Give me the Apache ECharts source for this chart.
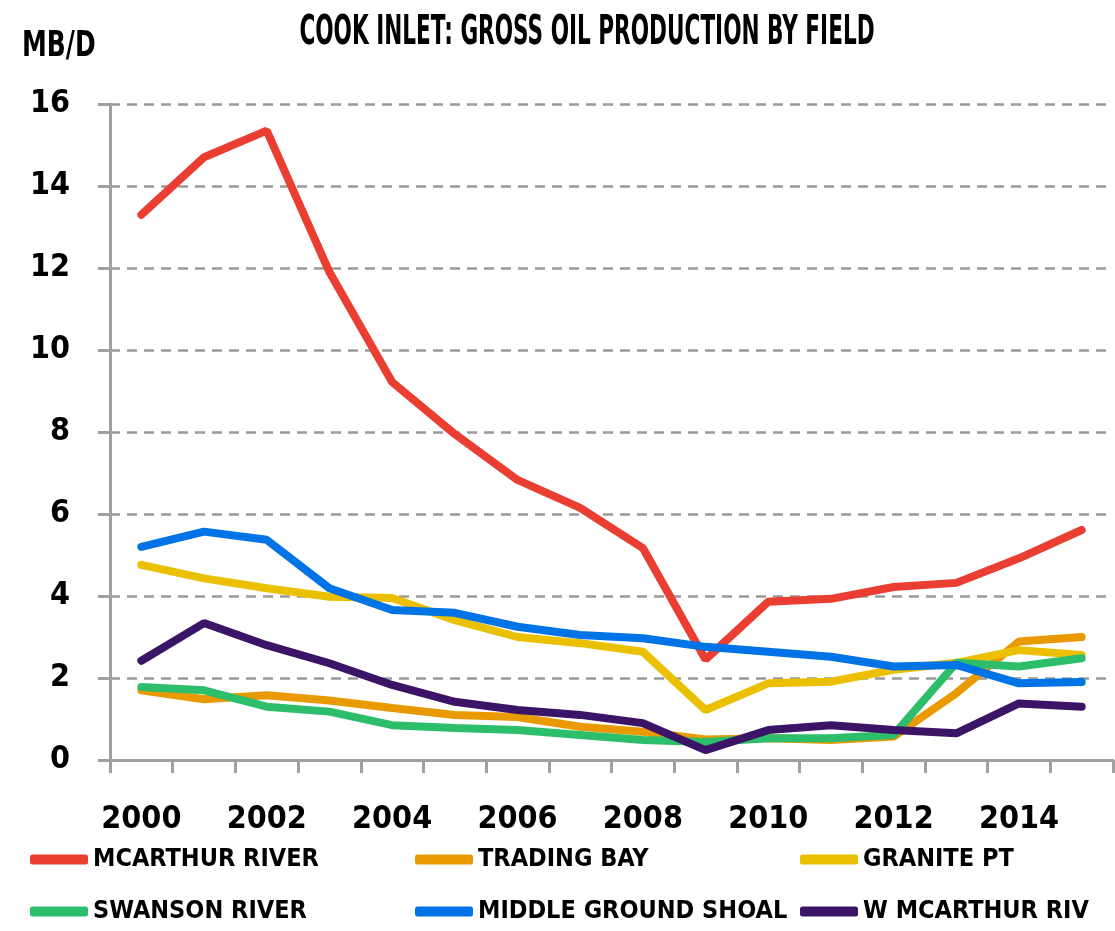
<!DOCTYPE html>
<html>
<head>
<meta charset="utf-8">
<script src="https://cdn.jsdelivr.net/npm/echarts@6.0.0/dist/echarts.min.js"></script>
<style>
  html, body { margin: 0; padding: 0; background: #fff; }
  #main { width: 1115px; height: 931px; }
</style>
</head>
<body>
<div id="main"></div>
<script>
// years on the x axis
const years = ['2000', '2001', '2002', '2003', '2004', '2005', '2006', '2007',
  '2008', '2009', '2010', '2011', '2012', '2013', '2014', '2015'];

// gross oil production, MB/D
const mcarthurRiver = [13.3, 14.7, 15.35, 11.9, 9.22, 7.95, 6.83, 6.15, 5.17, 2.45, 3.86, 3.93, 4.22, 4.32, 4.92, 5.61];
const tradingBay = [1.7, 1.48, 1.58, 1.45, 1.27, 1.1, 1.05, 0.81, 0.69, 0.5, 0.53, 0.49, 0.57, 1.63, 2.89, 3.0];
const granitePt = [4.76, 4.43, 4.19, 3.98, 3.95, 3.41, 3.0, 2.85, 2.64, 1.22, 1.87, 1.91, 2.2, 2.37, 2.68, 2.56];
const swansonRiver = [1.78, 1.7, 1.3, 1.18, 0.85, 0.78, 0.73, 0.61, 0.49, 0.44, 0.53, 0.53, 0.61, 2.37, 2.28, 2.48];
const middleGroundShoal = [5.2, 5.57, 5.37, 4.19, 3.66, 3.59, 3.25, 3.05, 2.97, 2.76, 2.64, 2.52, 2.28, 2.32, 1.87, 1.9];
const wMcarthurRiv = [2.42, 3.34, 2.8, 2.36, 1.83, 1.42, 1.22, 1.1, 0.9, 0.24, 0.73, 0.85, 0.73, 0.65, 1.38, 1.3];

const fieldNames = ['MCARTHUR RIVER', 'TRADING BAY', 'GRANITE PT', 'SWANSON RIVER', 'MIDDLE GROUND SHOAL', 'W MCARTHUR RIV'];
const fieldData = [mcarthurRiver, tradingBay, granitePt, swansonRiver, middleGroundShoal, wMcarthurRiv];
const fieldColors = ['#e93e31', '#e89a00', '#ebc000', '#2dbe6c', '#0073e6', '#3b1367'];

const FONT = '"Liberation Sans Narrow", "DejaVu Sans Condensed", sans-serif';

const chart = echarts.init(document.getElementById('main'));

// one legend per column, two rows each
function makeLegend(left, names) {
  return {
    orient: 'vertical',
    left: left,
    top: 847,
    height: 84,
    padding: 0,
    itemGap: 27,
    itemWidth: 58,
    itemHeight: 10,
    icon: 'roundRect',
    data: names,
    textStyle: {
      fontFamily: FONT,
      fontWeight: 'bold',
      fontSize: 25,
      color: '#000'
    }
  };
}

const option = {
  animation: false,
  backgroundColor: '#fff',
  graphic: [{
    type: 'text',
    x: 587,
    y: 14,
    scaleX: 0.6,
    style: {
      text: 'COOK INLET: GROSS OIL PRODUCTION BY FIELD',
      font: 'bold 40px ' + FONT,
      fill: '#000',
      textAlign: 'center',
      textVerticalAlign: 'top'
    }
  }, {
    type: 'text',
    x: 22,
    y: 29,
    scaleX: 0.77,
    style: {
      text: 'MB/D',
      font: 'bold 36px ' + FONT,
      fill: '#000',
      textVerticalAlign: 'top'
    }
  }],
  legend: [
    makeLegend(30, [fieldNames[0], fieldNames[3]]),
    makeLegend(415, [fieldNames[1], fieldNames[4]]),
    makeLegend(800, [fieldNames[2], fieldNames[5]])
  ],
  grid: {
    left: 110,
    right: 2,
    top: 104,
    bottom: 171,
    outerBoundsMode: 'none'
  },
  xAxis: {
    type: 'category',
    data: years,
    boundaryGap: true,
    axisLine: { lineStyle: { color: '#a0a0a0', width: 3 } },
    axisTick: { show: true, interval: 0, length: 13, lineStyle: { color: '#a0a0a0', width: 3 } },
    axisLabel: {
      interval: 1,
      margin: 44,
      fontFamily: FONT,
      fontWeight: 'bold',
      fontSize: 32,
      color: '#000'
    },
    splitLine: { show: false }
  },
  yAxis: {
    type: 'value',
    min: 0,
    max: 16,
    interval: 2,
    axisLine: { show: true, lineStyle: { color: '#a0a0a0', width: 3 } },
    axisTick: { show: true, length: 12, lineStyle: { color: '#a0a0a0', width: 3 } },
    axisLabel: {
      margin: 40,
      fontFamily: FONT,
      fontWeight: 'bold',
      fontSize: 32,
      color: '#000'
    },
    splitLine: {
      show: true,
      lineStyle: { color: '#9a9a9a', width: 2.5, type: [10, 7] }
    }
  },
  series: fieldNames.map((name, i) => ({
    name: name,
    type: 'line',
    data: fieldData[i],
    color: fieldColors[i],
    showSymbol: false,
    symbol: 'none',
    lineStyle: { width: 8, color: fieldColors[i], cap: 'round' },
    itemStyle: { color: fieldColors[i] }
  }))
};

chart.setOption(option);
</script>
</body>
</html>
